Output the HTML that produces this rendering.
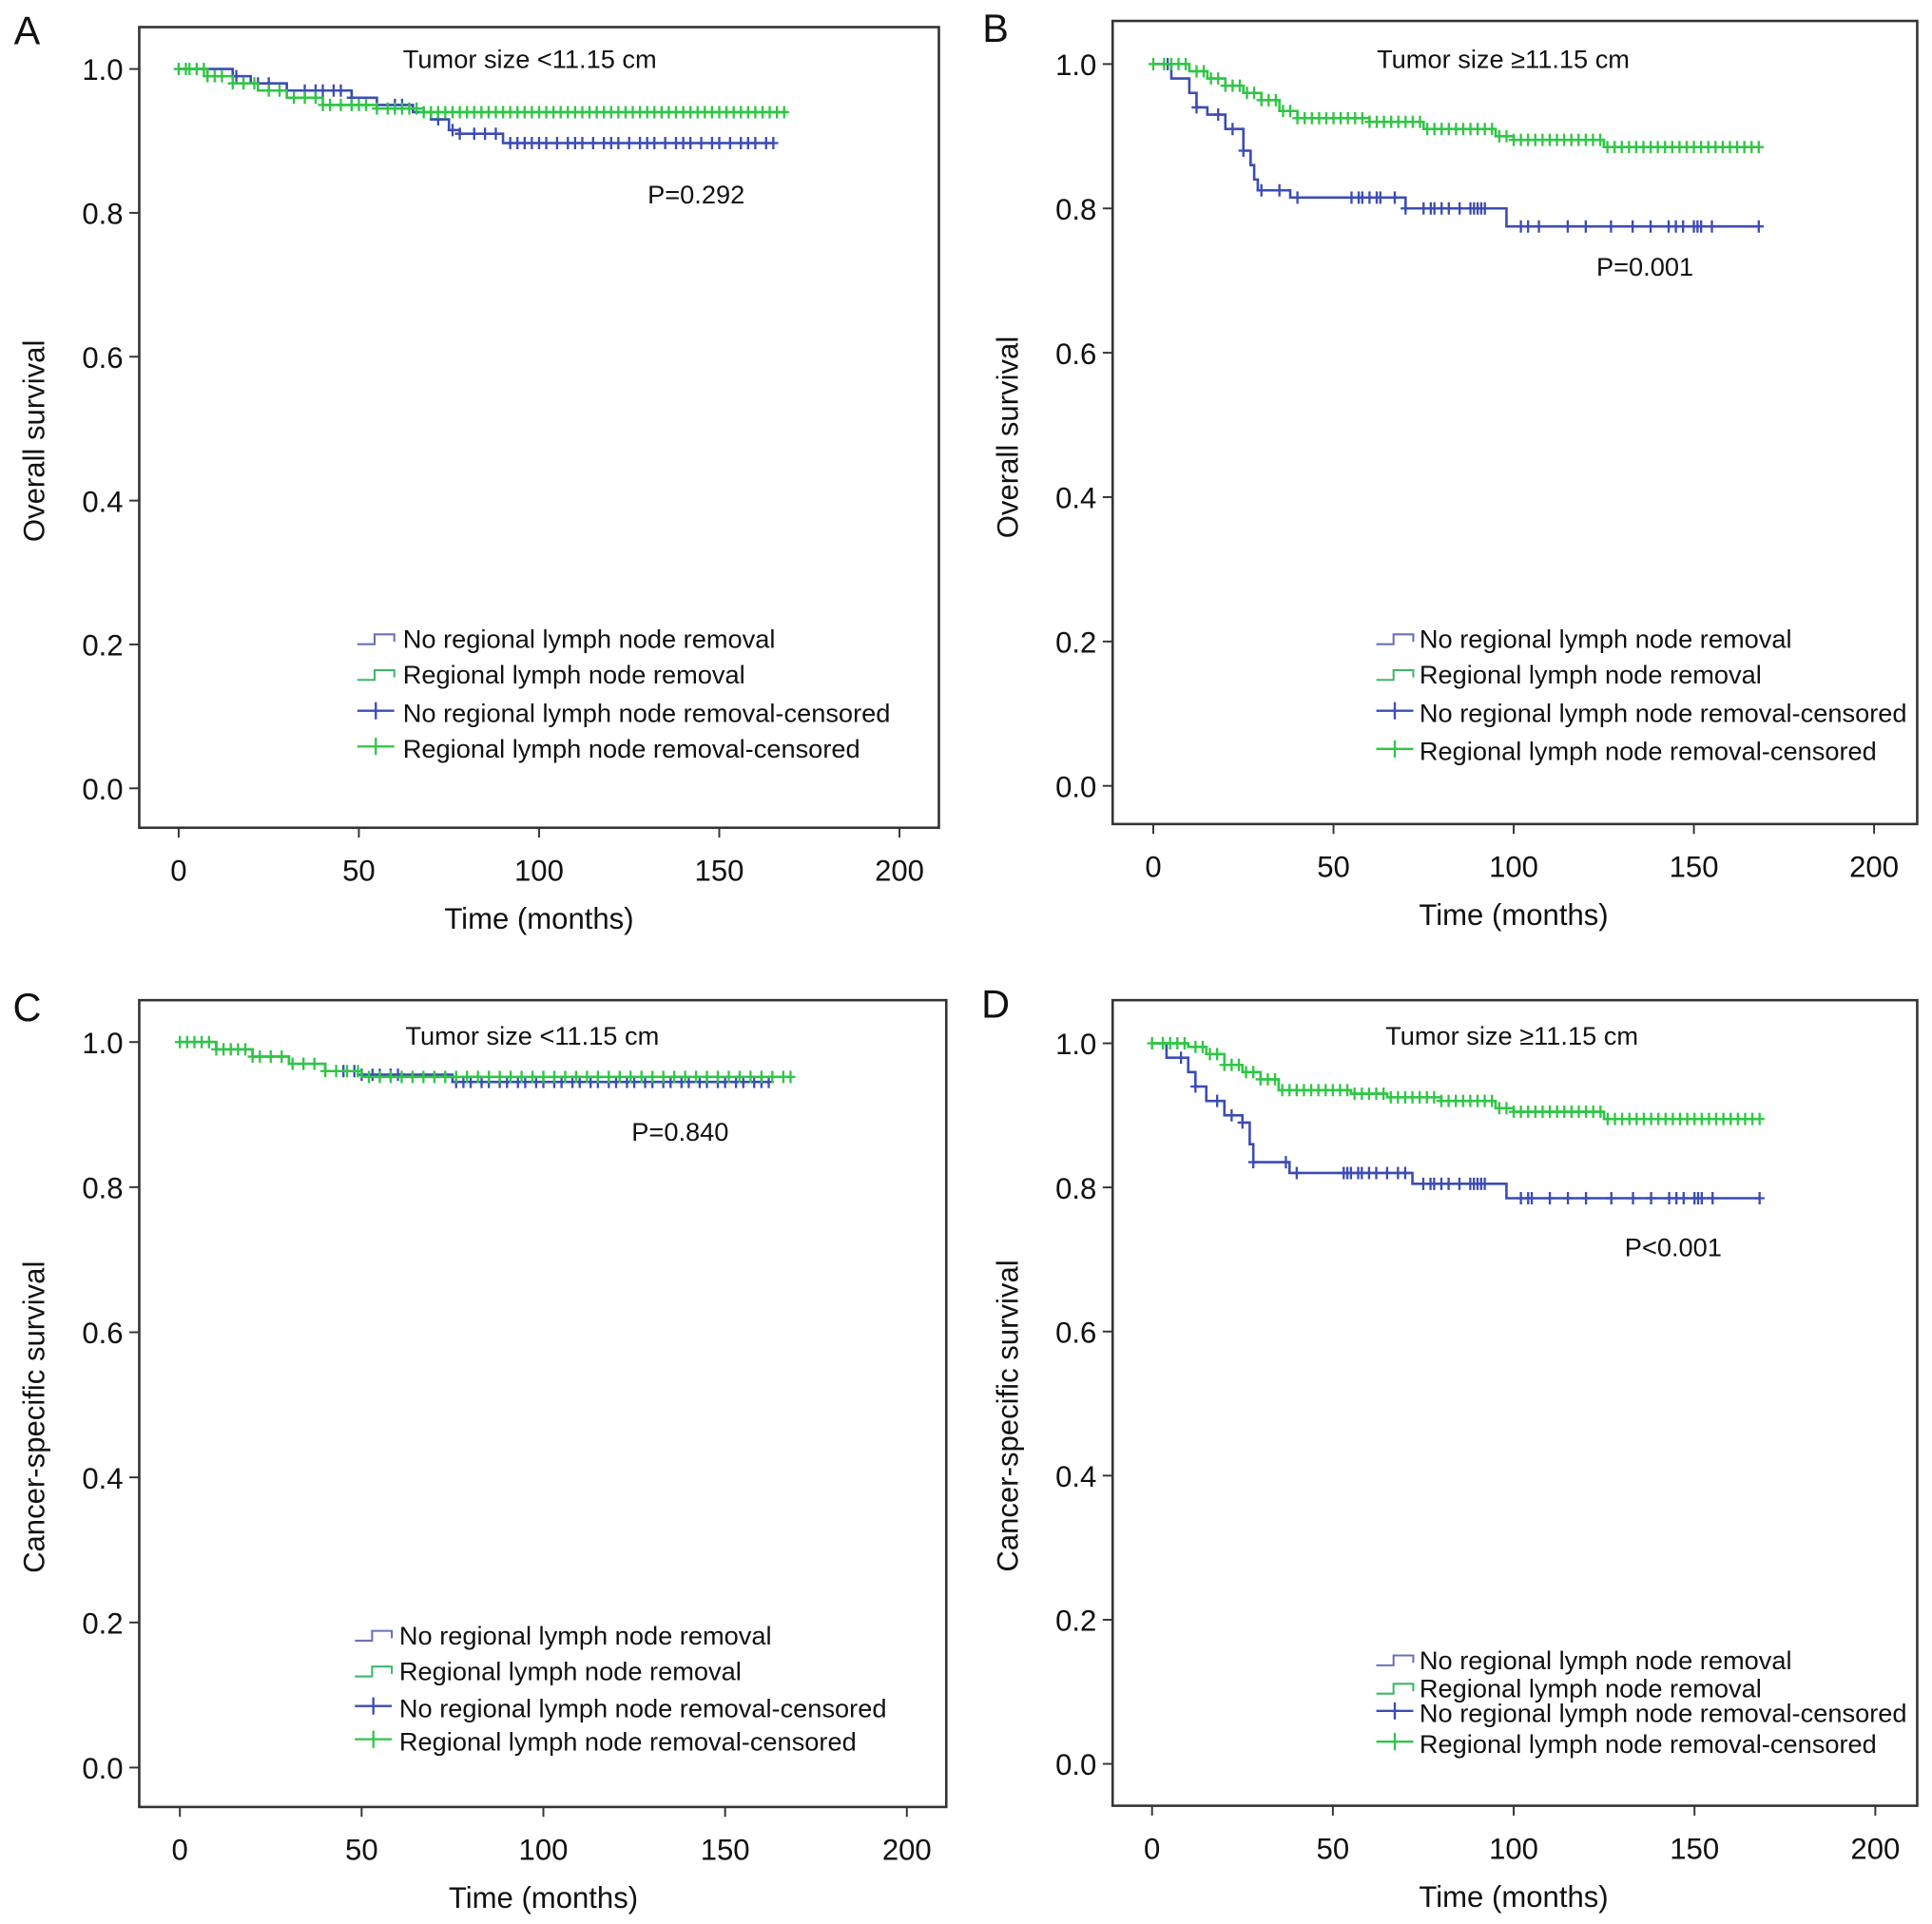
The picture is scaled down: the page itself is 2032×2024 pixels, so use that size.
<!DOCTYPE html>
<html><head><meta charset="utf-8"><style>
html,body{margin:0;padding:0;background:#fff;}
svg{display:block;font-family:"Liberation Sans",Arial,sans-serif;}
</style></head><body>
<svg id="fig" width="2032" height="2024" viewBox="0 0 1568 1562" preserveAspectRatio="none" xmlns="http://www.w3.org/2000/svg"></svg>
<script>
// ---- data ----
const xTicks = [0, 50, 100, 150, 200];
const yTicks = [0.0, 0.2, 0.4, 0.6, 0.8, 1.0];
const legendLabels = ["No regional lymph node removal","Regional lymph node removal","No regional lymph node removal-censored","Regional lymph node removal-censored"];

const aBlueT = [0,15,20,30,48,55,65,70,75,78,90,165];
const aBlueS = [1,0.99,0.98,0.97,0.96,0.95,0.94,0.93,0.915,0.91,0.897,0.897];
const aBlueC = [16,22,25,30,35,38,40,43,45,48,60,62,72,76,78,82,85,88,92,94,96,98,100,102,105,108,110,112,115,118,120,122,125,128,130,132,135,138,140,142,145,148,150,153,156,158,160,163,165];
const aGreenT = [0,8,15,22,30,40,55,68,168];
const aGreenS = [1,0.99,0.98,0.97,0.96,0.95,0.945,0.94,0.94];
const aGreenC = [0,2,3,5,7,8,10,12,15,18,21,25,28,32,35,38,40,42,45,48,50,52,55,58,60,62,64,66,68,70,72,74,76,78,80,82,84,86,88,90,92,94,96,98,100,102,104,106,108,110,112,114,116,118,120,122,124,126,128,130,132,134,136,138,140,142,144,146,148,150,152,154,156,158,160,162,164,166,168];

const bBlueT = [0,5,10,12,15,20,25,27,28,29,38,70,98,168];
const bBlueS = [1,0.98,0.96,0.94,0.93,0.91,0.88,0.86,0.84,0.825,0.815,0.80,0.775,0.775];
const bBlueC = [4,12,18,22,25,30,35,40,55,57,58,60,62,63,67,70,75,77,78,80,82,85,88,89,90,91,92,102,104,107,115,120,127,133,138,143,145,147,150,151,152,155,168];
const bGreenT = [0,10,15,20,25,30,35,40,60,75,95,100,125,168];
const bGreenS = [1,0.99,0.98,0.97,0.96,0.95,0.935,0.925,0.92,0.91,0.90,0.895,0.885,0.885];
const bGreenC = [0,3,5,7,9,12,14,16,18,20,22,24,26,28,30,32,34,36,38,40,42,44,46,48,50,52,54,56,58,60,62,64,66,68,70,72,74,76,78,80,82,84,86,88,90,92,94,96,98,100,102,104,106,108,110,112,114,116,118,120,122,124,126,128,130,132,134,136,138,140,142,144,146,148,150,152,154,156,158,160,162,164,166,168];

const cBlueT = [0,10,20,30,40,50,75,162];
const cBlueS = [1,0.99,0.98,0.97,0.96,0.955,0.945,0.945];
const cBlueC = [45,48,50,53,55,58,60,76,78,80,83,85,88,90,93,95,98,100,103,105,108,110,113,115,118,120,123,125,128,130,133,135,138,140,143,145,148,150,153,155,158,160,162];
const cGreenT = [0,10,20,30,40,50,168];
const cGreenS = [1,0.99,0.98,0.97,0.96,0.952,0.952];
const cGreenC = [0,2,4,6,8,10,12,14,16,18,20,22,25,28,31,34,37,40,43,46,49,52,55,58,61,64,67,70,73,76,79,82,85,88,91,94,97,100,103,106,109,112,115,118,121,124,127,130,133,136,139,142,145,148,151,154,157,160,163,166,168];

const dBlueT = [0,4,10,12,15,20,25,27,28,38,72,98,168];
const dBlueS = [1,0.98,0.96,0.94,0.92,0.90,0.89,0.86,0.835,0.82,0.805,0.785,0.785];
const dBlueC = [8,12,18,22,25,28,37,40,53,54,55,57,58,60,62,65,68,70,75,77,78,80,82,85,88,89,90,91,92,102,104,105,110,115,120,127,133,138,143,145,147,150,151,152,155,168];
const dGreenT = [0,10,15,20,25,30,35,55,65,80,95,100,125,168];
const dGreenS = [1,0.995,0.985,0.97,0.96,0.95,0.935,0.93,0.925,0.92,0.91,0.905,0.895,0.895];
const dGreenC = [0,3,5,7,9,12,14,16,18,20,22,24,26,28,30,32,34,36,38,40,42,44,46,48,50,52,54,56,58,60,62,64,66,68,70,72,74,76,78,80,82,84,86,88,90,92,94,96,98,100,102,104,106,108,110,112,114,116,118,120,122,124,126,128,130,132,134,136,138,140,142,144,146,148,150,152,154,156,158,160,162,164,166,168];

const BLUE = "#3c4cb4", GREEN = "#2fc645", BLUEL = "#6a70b8", GREENL = "#3fb86a";
const NS = "http://www.w3.org/2000/svg";
const svg = document.getElementById("fig");
function mk(tag, attrs, parent, txt) {
  const e = document.createElementNS(NS, tag);
  for (const k in attrs) e.setAttribute(k, attrs[k]);
  if (txt !== undefined) e.textContent = txt;
  (parent || svg).appendChild(e);
  return e;
}

const panels = [
  {id:"a", letter:"A", lx:22, ly:36, box:[113,22,762,672], x0:145, x200:730, y1:56, y0:640, ylab:"Overall survival", title:"Tumor size <11.15 cm", tx:430, ty:55, p:"P=0.292", px:565, py:165,
   leg:{lx:290, tx:327, rows:[519,548,579,608]}, blue:[aBlueT,aBlueS,aBlueC], green:[aGreenT,aGreenS,aGreenC]},
  {id:"b", letter:"B", lx:808, ly:34, box:[903,17,1556,669], x0:936, x200:1521, y1:52, y0:638, ylab:"Overall survival", title:"Tumor size \u226511.15 cm", tx:1220, ty:55, p:"P=0.001", px:1335, py:224,
   leg:{lx:1117, tx:1152, rows:[519,548,579,610]}, blue:[bBlueT,bBlueS,bBlueC], green:[bGreenT,bGreenS,bGreenC]},
  {id:"c", letter:"C", lx:22, ly:829, box:[113,812,768,1467], x0:146, x200:736, y1:846, y0:1435, ylab:"Cancer-specific survival", title:"Tumor size <11.15 cm", tx:432, ty:848, p:"P=0.840", px:552, py:926,
   leg:{lx:288, tx:324, rows:[1328,1357,1387,1414]}, blue:[cBlueT,cBlueS,cBlueC], green:[cGreenT,cGreenS,cGreenC]},
  {id:"d", letter:"D", lx:808, ly:826, box:[903,812,1556,1466], x0:935, x200:1522, y1:847, y0:1432, ylab:"Cancer-specific survival", title:"Tumor size \u226511.15 cm", tx:1227, ty:848, p:"P<0.001", px:1358, py:1020,
   leg:{lx:1117, tx:1152, rows:[1348,1371,1391,1416]}, blue:[dBlueT,dBlueS,dBlueC], green:[dGreenT,dGreenS,dGreenC]}
];

panels.forEach(P => {
  const g = mk("g", {});
  
  
  const X = t => P.x0 + (P.x200 - P.x0) * t / 200;
  const Y = s => P.y0 - (P.y0 - P.y1) * s;
  const [bx1, by1, bx2, by2] = P.box;

  const lt = mk("text", {x:P.lx, y:P.ly, "font-size":32, "text-anchor":"middle", fill:"#111"}, g, P.letter);
  
  

  const fr = mk("rect", {x:bx1, y:by1, width:bx2-bx1, height:by2-by1, fill:"none", stroke:"#333", "stroke-width":2}, g);
  
  

  xTicks.forEach(v => {
    mk("line", {x1:X(v), x2:X(v), y1:by2, y2:by2+8, stroke:"#333", "stroke-width":1.5}, g);
    const t = mk("text", {x:X(v), y:by2+43, "font-size":24, "text-anchor":"middle", fill:"#111"}, g, String(v));
    
    
  });
  yTicks.forEach(v => {
    mk("line", {x1:bx1-8, x2:bx1, y1:Y(v), y2:Y(v), stroke:"#333", "stroke-width":1.5}, g);
    const t = mk("text", {x:bx1-13, y:Y(v)+9, "font-size":24, "text-anchor":"end", fill:"#111"}, g, v.toFixed(1));
    
    
  });
  const xt = mk("text", {x:(X(0)+X(200))/2, y:by2+82, "font-size":24, "text-anchor":"middle", fill:"#111"}, g, "Time (months)");
  
  
  const cy = (Y(0)+Y(1))/2 + 10;
  const yt = mk("text", {x:0, y:0, "font-size":24, "text-anchor":"middle", fill:"#111", transform:`translate(${bx1-77},${cy}) rotate(-90)`}, g, P.ylab);
  
  

  const ti = mk("text", {x:P.tx, y:P.ty, "font-size":21, "text-anchor":"middle", fill:"#111"}, g, P.title);
  
  
  const pv = mk("text", {x:P.px, y:P.py, "font-size":21, "text-anchor":"middle", fill:"#111"}, g, P.p);
  
  

  function curve(T, S, C, color, name) {
    let d = `M${X(T[0])},${Y(S[0])}`;
    for (let i = 1; i < T.length; i++) d += ` H${X(T[i])} V${Y(S[i])}`;
    const p = mk("path", {d, fill:"none", stroke:color, "stroke-width":2}, g);
    
    
    const sv = t => { let s = S[0]; for (let i = 0; i < T.length; i++) if (T[i] <= t) s = S[i]; return s; };
    C.forEach(t => {
      const cx = X(t), yy = Y(sv(t));
      const c = mk("path", {d:`M${cx-4},${yy} H${cx+4} M${cx},${yy-5} V${yy+5}`, stroke:color, "stroke-width":1.8, fill:"none"}, g);
      
      
    });
  }
  curve(P.blue[0], P.blue[1], P.blue[2], BLUE, "no-removal");
  curve(P.green[0], P.green[1], P.green[2], GREEN, "removal");

  const L = P.leg;
  const cols = [BLUEL, GREENL, BLUE, GREEN];
  legendLabels.forEach((lab, i) => {
    const yy = L.rows[i];
    const lg = mk("g", {}, g);
    
    
    if (i < 2) {
      mk("path", {d:`M${L.lx},${yy+4} H${L.lx+14} V${yy-4} H${L.lx+30} V${yy+2}`, stroke:cols[i], "stroke-width":1.6, fill:"none"}, lg);
    } else {
      mk("path", {d:`M${L.lx},${yy-2} H${L.lx+30} M${L.lx+15},${yy-9} V${yy+5}`, stroke:cols[i], "stroke-width":1.8, fill:"none"}, lg);
    }
    mk("text", {x:L.tx, y:yy+7, "font-size":21, fill:"#111"}, lg, lab);
  });
});
</script>
</body></html>
